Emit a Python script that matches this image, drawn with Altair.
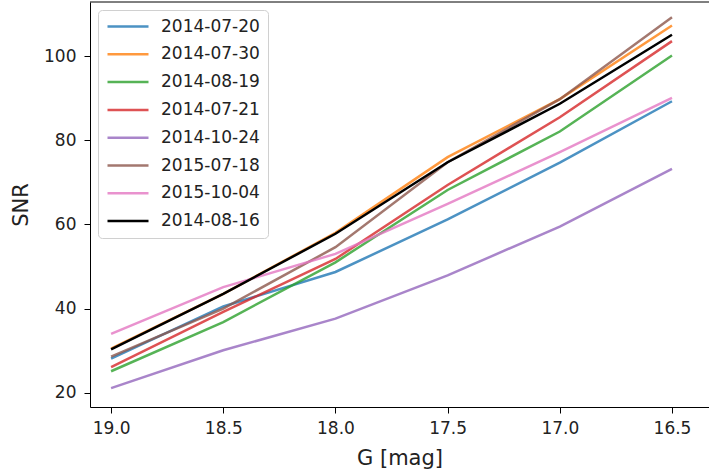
import altair as alt
import pandas as pd

mags = [19.0, 18.5, 18.0, 17.5, 17.0, 16.5]
dates = ["2014-07-20", "2014-07-30", "2014-08-19", "2014-07-21",
         "2014-10-24", "2015-07-18", "2015-10-04", "2014-08-16"]
snr_20140720 = [28.1, 40.5, 48.7, 61.2, 74.7, 89.3]
snr_20140730 = [30.5, 43.5, 58.0, 76.0, 89.8, 107.3]
snr_20140819 = [25.1, 36.8, 51.0, 68.2, 82.1, 100.2]
snr_20140721 = [26.1, 39.2, 51.8, 69.4, 85.5, 103.6]
snr_20141024 = [21.1, 30.1, 37.6, 47.9, 59.5, 73.2]
snr_20150718 = [28.6, 40.0, 54.6, 74.8, 89.8, 109.3]
snr_20151004 = [34.0, 45.1, 53.0, 64.9, 77.2, 90.1]
snr_20140816 = [30.3, 43.5, 57.8, 74.8, 88.7, 105.1]
series = [snr_20140720, snr_20140730, snr_20140819, snr_20140721,
          snr_20141024, snr_20150718, snr_20151004, snr_20140816]
colors = ["rgba(31,119,180,0.8)", "rgba(255,127,14,0.8)", "rgba(44,160,44,0.8)",
          "rgba(214,39,40,0.8)", "rgba(148,103,189,0.8)", "rgba(140,86,75,0.8)",
          "rgba(227,119,194,0.8)", "#000000"]

rows = []
for d, vals in zip(dates, series):
    for m, v in zip(mags, vals):
        rows.append({"date": d, "G": m, "SNR": v})
df = pd.DataFrame(rows)

FONT = "DejaVu Sans"
W, H = 619, 405

lines = alt.Chart(df).mark_line(strokeWidth=2.5).encode(
    x=alt.X("G:Q", title="G [mag]",
            scale=alt.Scale(domain=[16.335, 19.094], reverse=True, nice=False, zero=False),
            axis=alt.Axis(values=mags, format=".1f", grid=False, tickSize=6,
                          labelPadding=7, titlePadding=11)),
    y=alt.Y("SNR:Q", title="SNR",
            scale=alt.Scale(domain=[16.6, 112.9], nice=False, zero=False),
            axis=alt.Axis(values=[20, 40, 60, 80, 100], grid=False, tickSize=6,
                          labelPadding=8, titlePadding=12)),
    color=alt.Color("date:N", sort=dates,
                    scale=alt.Scale(domain=dates, range=colors),
                    legend=alt.Legend(title=None, orient="none", legendX=8, legendY=8,
                                      symbolType="stroke", symbolSize=1681,
                                      symbolStrokeWidth=2.5, labelFontSize=17,
                                      labelFont=FONT, labelColor="#222",
                                      clipHeight=17, padding=8, rowPadding=9.8,
                                      labelOffset=11,
                                      fillColor="rgba(255,255,255,0.85)",
                                      strokeColor="#d0d0d0", cornerRadius=4)),
)

top = alt.Chart(pd.DataFrame({"k": [0]})).mark_rule(color="black", strokeWidth=1).encode(
    x=alt.value(0), x2=alt.value(W), y=alt.value(0)
)

chart = alt.layer(lines, top).properties(
    width=W, height=H,
    padding={"left": 90, "top": 2, "right": 0, "bottom": 68},
    autosize=alt.AutoSizeParams(type="none"),
).configure_view(stroke=None).configure_axis(
    domainColor="black", domainWidth=1, tickColor="black", tickWidth=1,
    labelFont=FONT, labelFontSize=17, labelColor="#222",
    titleFont=FONT, titleFontSize=21, titleFontWeight="normal", titleColor="#222",
)

chart.save("out.html", embed_options={"renderer": "svg", "actions": False})
